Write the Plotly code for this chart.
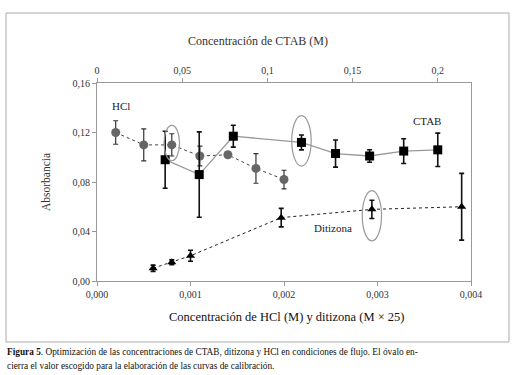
import plotly.graph_objects as go

# HCl (bottom axis, M)
hcl_x = [0.0002, 0.0005, 0.0008, 0.0011, 0.0014, 0.0017, 0.0020]
hcl_y = [0.120, 0.110, 0.110, 0.101, 0.102, 0.091, 0.082]
hcl_err = [0.0095, 0.013, 0.009, 0.008, 0.002, 0.012, 0.0075]

# CTAB (top axis, M)
ctab_x = [0.04, 0.06, 0.08, 0.12, 0.14, 0.16, 0.18, 0.20]
ctab_y = [0.098, 0.086, 0.117, 0.112, 0.103, 0.101, 0.105, 0.106]
ctab_err = [0.023, 0.0345, 0.0088, 0.006, 0.011, 0.005, 0.010, 0.0135]

# Ditizona (bottom axis, M x 25)
dit_x = [0.0006, 0.0008, 0.0010, 0.00197, 0.00294, 0.0039]
dit_y = [0.0103, 0.0151, 0.0204, 0.0512, 0.0579, 0.060]
dit_err = [0.0025, 0.002, 0.0045, 0.0075, 0.0074, 0.027]

bottom_ticks = [0.000, 0.001, 0.002, 0.003, 0.004]
top_ticks = [0, 0.05, 0.1, 0.15, 0.2]
top_labels = ["0", "0,05", "0,1", "0,15", "0,2"]
y_ticks = [0.00, 0.04, 0.08, 0.12, 0.16]

FONT = "Liberation Serif, Times New Roman, DejaVu Serif, serif"
AX = "#999999"

fig = go.Figure()

fig.add_trace(go.Scatter(
    x=hcl_x, y=hcl_y, mode="lines+markers", name="HCl",
    line=dict(color="#444444", width=1, dash="dot"),
    marker=dict(symbol="circle", size=9, color="#666666"),
    error_y=dict(type="data", array=hcl_err, color="#333333", thickness=1.2, width=2.5),
))
fig.add_trace(go.Scatter(
    x=ctab_x, y=ctab_y, mode="lines+markers", name="CTAB", xaxis="x2",
    line=dict(color="#999999", width=1.3),
    marker=dict(symbol="square", size=9, color="#000000"),
    error_y=dict(type="data", array=ctab_err, color="#111111", thickness=1.6, width=2.5),
))
fig.add_trace(go.Scatter(
    x=dit_x, y=dit_y, mode="lines+markers", name="Ditizona",
    line=dict(color="#222222", width=1, dash="dot"),
    marker=dict(symbol="triangle-up", size=8, color="#000000"),
    error_y=dict(type="data", array=dit_err, color="#111111", thickness=1.6, width=2.5),
))

# Ovals marking chosen values
def oval(xref, cx, cy, hw, hh):
    fig.add_shape(type="circle", xref=xref, yref="y",
                  x0=cx - hw, x1=cx + hw, y0=cy - hh, y1=cy + hh,
                  line=dict(color="#999999", width=1.2))

oval("x", hcl_x[2], 0.1115, 0.000083, 0.0143)
oval("x2", ctab_x[3], 0.1133, 0.0057, 0.0204)
oval("x", dit_x[4], 0.0528, 0.000103, 0.0203)

# Series labels
fig.add_annotation(x=0.000257, y=0.1414, xref="x", yref="y", text="HCl", showarrow=False,
                   font=dict(family=FONT, size=11, color="#222"))
fig.add_annotation(x=0.1935, y=0.1295, xref="x2", yref="y", text="CTAB", showarrow=False,
                   font=dict(family=FONT, size=11, color="#222"))
fig.add_annotation(x=0.00252, y=0.0426, xref="x", yref="y", text="Ditizona", showarrow=False,
                   font=dict(family=FONT, size=11, color="#222"))

# Axis titles
fig.add_annotation(x=0.43, y=1.2576, xref="paper", yref="paper", text="Concentración de CTAB (M)",
                   showarrow=False, font=dict(family=FONT, size=12, color="#333"))
fig.add_annotation(x=0.508, y=-0.227, xref="paper", yref="paper",
                   text="Concentración de HCl (M) y ditizona (M × 25)",
                   showarrow=False, font=dict(family=FONT, size=12.5, color="#111"))

# Outer frame
fig.add_shape(type="rect", xref="paper", yref="paper",
              x0=-0.2433, x1=1.1016, y0=-0.308, y1=1.3535,
              line=dict(color="#aaaaaa", width=1), layer="below")

# Caption
fig.add_annotation(x=-0.245, y=-0.36, xref="paper", yref="paper", xanchor="left", yanchor="middle",
                   text="<b>Figura 5</b>. Optimización de las concentraciones de CTAB, ditizona y HCl en condiciones de flujo. El óvalo en-",
                   showarrow=False, align="left", font=dict(family=FONT, size=9.3, color="#111"))
fig.add_annotation(x=-0.245, y=-0.43, xref="paper", yref="paper", xanchor="left", yanchor="middle",
                   text="cierra el valor escogido para la elaboración de las curvas de calibración.",
                   showarrow=False, align="left", font=dict(family=FONT, size=9.3, color="#111"))

fig.update_layout(
    width=518, height=375,
    margin=dict(l=97, r=47, t=83, b=94),
    paper_bgcolor="white", plot_bgcolor="white",
    showlegend=False,
    separators=",.",
    font=dict(family=FONT, size=10, color="#333"),
    xaxis=dict(range=[0, 0.004], tickvals=bottom_ticks, tickformat=".3f",
               showline=True, linecolor=AX, linewidth=1.2, mirror=False,
               ticks="outside", ticklen=4, tickcolor=AX, showgrid=False, zeroline=False,
               tickfont=dict(family=FONT, size=10, color="#333")),
    xaxis2=dict(range=[0, 0.2195], overlaying="x", side="top", tickvals=top_ticks, ticktext=top_labels,
                showline=True, linecolor=AX, linewidth=1.2,
                ticks="outside", ticklen=4, tickcolor=AX, showgrid=False, zeroline=False,
                tickfont=dict(family=FONT, size=10, color="#333")),
    yaxis=dict(range=[0, 0.16], tickvals=y_ticks, tickformat=".2f",
               showline=True, linecolor=AX, linewidth=1.2, mirror=True,
               ticks="outside", ticklen=4, tickcolor=AX, showgrid=False, zeroline=False,
               title=dict(text="Absorbancia", font=dict(family=FONT, size=11.5, color="#333"), standoff=19),
               tickfont=dict(family=FONT, size=10, color="#333")),
)

fig.write_html("out.html", config={"displayModeBar": False},
               post_script="document.body.style.margin='0';")
